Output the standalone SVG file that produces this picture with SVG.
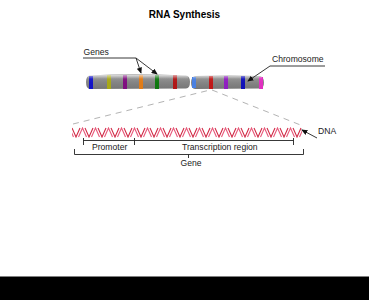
<svg xmlns="http://www.w3.org/2000/svg" width="369" height="300" viewBox="0 0 369 300">
<style>
text{font-family:"Liberation Sans",Arial,sans-serif;font-size:8.600px;fill:#222}
.t{font-size:10px;font-weight:bold;fill:#000}
.l{fill:none;stroke:#222;stroke-width:.9}
.d{fill:none;stroke:#a0a0a0;stroke-width:.8;stroke-dasharray:6 5}
</style>
<defs>
<marker id="a" markerWidth="7" markerHeight="6" refX="6" refY="3" orient="auto"><path d="M0 0L7 3L0 6z" fill="#111"/></marker>
<linearGradient id="g" x1="0" y1="0" x2="0" y2="1"><stop offset="0" stop-color="#a8a8a8"/><stop offset=".25" stop-color="#8e8e8e"/><stop offset="1" stop-color="#767676"/></linearGradient>
<linearGradient id="w" x1="0" y1="0" x2="0" y2="1"><stop offset="0" stop-color="#fff" stop-opacity=".6"/><stop offset=".5" stop-color="#fff" stop-opacity=".03"/><stop offset="1" stop-color="#fff" stop-opacity="0"/></linearGradient>
<!-- one turn of the double strand, repeated along the helix -->
<pattern id="helix" x="72" y="127" width="13" height="11" patternUnits="userSpaceOnUse">
<path d="M6.500 10L10.500 1L14.500 10M-6.500 10L-2.500 1L1.500 10" fill="none" stroke="#e8587a" stroke-width="1.100"/>
<path d="M0 1L4 10L8 1M13 1L17 10" fill="none" stroke="#d02844" stroke-width="1.100"/>
</pattern>
</defs>
<rect width="369" height="300" fill="#fff"/>
<rect y="276.500" width="369" height="23.500" fill="#000"/>
<text class="t" x="184.500" y="17.500" text-anchor="middle">RNA Synthesis</text>
<g id="chromosome">
<path d="M90 75.500Q130 73 186 75.500Q190 76 190 82Q190 88 186 88.500L90 89Q86 89 86 82Q86 76 90 75.500Z" fill="url(#g)"/>
<path d="M195 76Q230 75 260 76Q264 77 264 82.500Q264 88 260 88.500L195 89Q191 89 191 82.500Q191 77 195 76Z" fill="url(#g)"/>
<rect x="89" y="76" width="4" height="13" fill="#1414c8"/>
<rect x="107" y="75" width="4" height="14" fill="#a8a818"/>
<rect x="123" y="75" width="4" height="14" fill="#801080"/>
<rect x="139" y="75" width="4" height="14" fill="#e07c18"/>
<rect x="155" y="75" width="4" height="14" fill="#107810"/>
<rect x="173" y="75" width="4" height="14" fill="#b01818"/>
<rect x="192" y="77" width="4" height="11" fill="#4a80e0"/>
<rect x="209" y="76" width="4" height="13" fill="#c01818"/>
<rect x="224" y="76" width="4" height="13" fill="#9020c0"/>
<rect x="241" y="76" width="4" height="13" fill="#1010b8"/>
<rect x="259" y="77" width="4" height="12" fill="#e030c0"/>
<path d="M88 75H188V83H88Z M193 76H262V83H193Z" fill="url(#w)"/>
</g>
<g id="dna">
<rect x="72" y="127" width="230" height="11" fill="url(#helix)"/>
</g>
<g id="connectors">
<path class="d" d="M73 124L210 90"/>
<path class="d" d="M212 90L303 126"/>
<path class="l" d="M83 58H136"/>
<path class="l" d="M136 58L141 73" marker-end="url(#a)"/>
<path class="l" d="M136 58L157 74" marker-end="url(#a)"/>
<path class="l" d="M325 66H270L248 81" marker-end="url(#a)"/>
<path class="l" d="M317 138L302 130" marker-end="url(#a)"/>
</g>
<g id="brackets">
<path class="l" d="M83.500 138V145M83.500 140.500H293.500M134.500 138V145M293.500 138V145"/>
<path class="l" d="M74.500 149V154.500H303.500V149M188.500 154.500V158"/>
</g>
<g id="labels">
<text x="83.500" y="55">Genes</text>
<text x="272" y="62">Chromosome</text>
<text x="318" y="134">DNA</text>
<text x="92" y="150">Promoter</text>
<text x="182" y="150">Transcription region</text>
<text x="180.500" y="166">Gene</text>
</g>
</svg>
